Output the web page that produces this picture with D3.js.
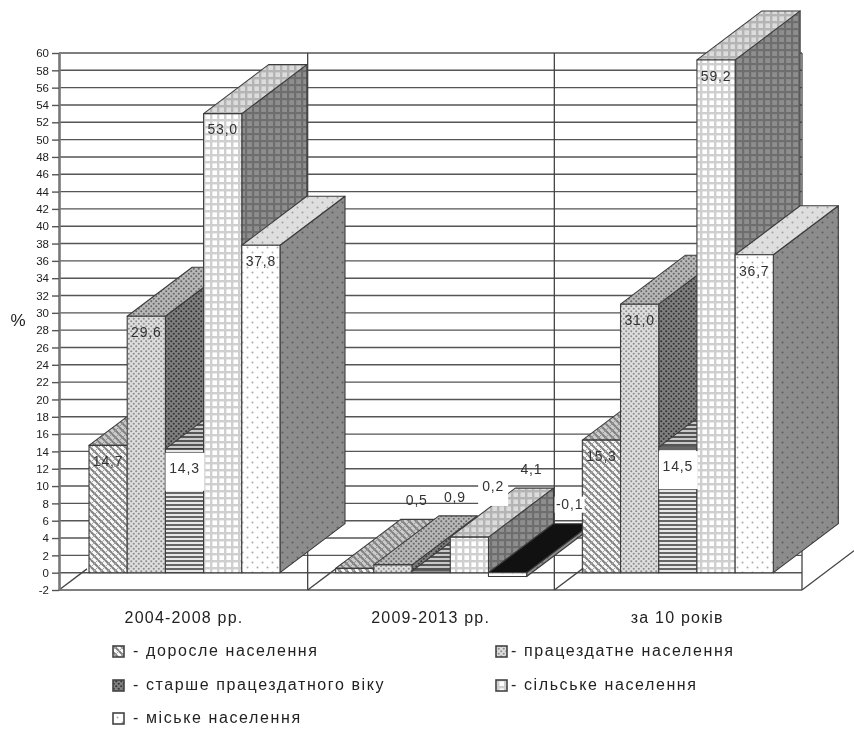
<!DOCTYPE html>
<html>
<head>
<meta charset="utf-8">
<script src="https://cdnjs.cloudflare.com/ajax/libs/d3/7.8.5/d3.min.js"></script>
<style>
    body { margin: 0; background: #fff; }
    svg { display: block; filter: blur(0.6px); }
    text { font-family: "Liberation Sans", Arial, sans-serif; fill: #222; }
</style>
</head>
<body>
<div id="chart"></div>
<script>
'use strict';

var categories = ['2004-2008 рр.', '2009-2013 рр.', 'за 10 років'];
var seriesNames = ['доросле населення', 'працездатне населення', 'старше працездатного віку', 'сільське населення', 'міське населення'];
var adultValues = [14.7, 0.5, 15.3];
var workingValues = [29.6, 0.9, 31.0];
var olderValues = [14.3, 0.2, 14.5];
var ruralValues = [53.0, 4.1, 59.2];
var urbanValues = [37.8, -0.1, 36.7];
var yTicks = d3.range(-2, 61, 2);

var seriesValues = [adultValues, workingValues, olderValues, ruralValues, urbanValues];

var width = 854, height = 729;
var depthX = 65, depthY = -49;

var svg = d3.select('#chart').append('svg')
    .attr('width', width)
    .attr('height', height);

var y = d3.scaleLinear().domain([-2, 60]).range([590, 53]);
var x0 = d3.scaleBand().domain(categories).range([60, 800]);
var x1 = d3.scaleBand().domain(seriesNames).range([29, 220]);

var defs = svg.append('defs');

function makePattern(id, size, bg, draw) {
    var p = defs.append('pattern')
        .attr('id', id)
        .attr('patternUnits', 'userSpaceOnUse')
        .attr('width', size)
        .attr('height', size);
    p.append('rect').attr('width', size).attr('height', size).attr('fill', bg);
    draw(p);
}

function hatch(color, w, cross) {
    return function(p) {
        p.append('path').attr('d', 'M-1,-1 L8,8 M-4,3 L4,11 M3,-4 L11,4')
            .attr('stroke', color).attr('stroke-width', w).attr('fill', 'none');
        p.append('path').attr('d', 'M-1,8 L8,-1 M-4,4 L4,-4 M3,11 L11,3')
            .attr('stroke', cross).attr('stroke-width', 1).attr('fill', 'none');
    };
}

function dots(color, r, size) {
    return function(p) {
        p.append('circle').attr('cx', size / 4).attr('cy', size / 4).attr('r', r).attr('fill', color);
        p.append('circle').attr('cx', size * 3 / 4).attr('cy', size * 3 / 4).attr('r', r).attr('fill', color);
    };
}

function stripes(color, w) {
    return function(p) {
        p.append('rect').attr('y', 0).attr('width', 4).attr('height', w).attr('fill', color);
    };
}

function grid(color, w, size) {
    return function(p) {
        p.append('rect').attr('width', size).attr('height', w).attr('fill', color);
        p.append('rect').attr('width', w).attr('height', size).attr('fill', color);
    };
}

makePattern('adultFront', 7, '#fafafa', hatch('#808080', 2, '#aaa'));
makePattern('adultTop', 7, '#cccccc', hatch('#808080', 2, '#999'));
makePattern('adultSide', 7, '#9a9a9a', hatch('#666', 2, '#777'));
makePattern('workFront', 5, '#dedede', dots('#8c8c8c', 1.05, 5));
makePattern('workTop', 5, '#b8b8b8', dots('#666', 1.05, 5));
makePattern('workSide', 5, '#808080', dots('#333', 1.05, 5));
makePattern('oldFront', 4, '#e8e8e8', stripes('#666', 2));
makePattern('oldTop', 4, '#c8c8c8', stripes('#555', 2));
makePattern('oldSide', 4, '#aaa', stripes('#444', 2));
makePattern('ruralFront', 7, '#fff', grid('#cfcfcf', 2.4, 7));
makePattern('ruralTop', 7, '#dcdcdc', grid('#b4b4b4', 2.4, 7));
makePattern('ruralSide', 7, '#8e8e8e', grid('#6e6e6e', 2.2, 7));
makePattern('urbanFront', 10, '#fff', dots('#a8a8a8', 1, 10));
makePattern('urbanTop', 10, '#dedede', dots('#a0a0a0', 1, 10));
makePattern('urbanSide', 10, '#8c8c8c', dots('#5c5c5c', 1, 10));

var faceNames = ['adult', 'work', 'old', 'rural', 'urban'];

// back wall and floor
var wall = svg.append('g').attr('id', 'wall-layer');

wall.selectAll('line.grid').data(yTicks).enter().append('line')
    .attr('class', 'grid')
    .attr('x1', 59).attr('x2', 802)
    .attr('y1', function(d) { return y(d); })
    .attr('y2', function(d) { return y(d); })
    .attr('stroke', '#555')
    .attr('stroke-width', 1.4);

function dividerX(i) {
    return i === 3 ? 802 : x0(categories[i]) + (i ? 1 : 0);
}

[1, 2, 3].forEach(function(i) {
    var xp = dividerX(i);
    wall.append('line')
        .attr('x1', xp).attr('x2', xp)
        .attr('y1', y(60)).attr('y2', y(-2))
        .attr('stroke', '#444').attr('stroke-width', 1.3);
});

[0, 1, 2, 3].forEach(function(i) {
    var xp = i === 0 ? 59 : dividerX(i);
    var len = i === 3 ? 52 : i === 0 ? 28 : 36;
    wall.append('line')
        .attr('x1', xp).attr('y1', y(-2))
        .attr('x2', xp + len).attr('y2', y(-2) - len * 49 / 65)
        .attr('stroke', '#444').attr('stroke-width', 1.3);
});

var axis = d3.axisLeft(y).tickValues(yTicks).tickSize(7).tickSizeOuter(0).tickFormat(String);
var axisG = svg.append('g').attr('transform', 'translate(59,0)').call(axis);
axisG.select('.domain').attr('stroke', '#777').attr('stroke-width', 2.6);
axisG.selectAll('.tick line').attr('stroke', '#555').attr('stroke-width', 1.4);
axisG.selectAll('.tick text')
    .attr('x', -10)
    .style('font-size', '11.5px')
    .style('fill', '#222')
    .style('font-family', '"Liberation Sans", Arial, sans-serif');

svg.append('text')
    .attr('x', 18).attr('y', 322)
    .attr('text-anchor', 'middle')
    .attr('dominant-baseline', 'middle')
    .style('font-size', '17px')
    .text('%');

// bars are painted left to right so the nearer one hides the side of the previous
var bars = svg.append('g').attr('id', 'bars-layer');

function poly(pts, fill) {
    bars.append('polygon')
        .attr('points', pts.map(function(p) { return p.join(','); }).join(' '))
        .attr('fill', fill)
        .attr('stroke', '#3c3c3c')
        .attr('stroke-width', 1.1)
        .attr('stroke-linejoin', 'round');
}

categories.forEach(function(cat) {
    seriesNames.forEach(function(name, s) {
        var g = categories.indexOf(cat);
        var v = seriesValues[s][g];
        var left = x0(cat) + x1(name);
        var right = left + x1.bandwidth();
        var topY = v < 0 ? y(0) : y(v);
        var botY = v < 0 ? y(v) + 3 : y(0);
        var f = faceNames[s];

        poly([[right, topY], [right + depthX, topY + depthY], [right + depthX, botY + depthY], [right, botY]], 'url(#' + f + 'Side)');
        poly([[left, topY], [right, topY], [right + depthX, topY + depthY], [left + depthX, topY + depthY]],
            v < 0 ? '#111' : 'url(#' + f + 'Top)');
        poly([[left, topY], [right, topY], [right, botY], [left, botY]], 'url(#' + f + 'Front)');
    });
});

// value labels
var labels = svg.append('g').attr('id', 'labels-layer');

categories.forEach(function(cat, g) {
    seriesNames.forEach(function(name, s) {
        var v = seriesValues[s][g];
        var cx = x0(cat) + x1(name) + x1.bandwidth() / 2;
        var lx, ly;
        if (Math.abs(v) < 5) {
            lx = cx + 62;
            ly = y(Math.max(v, 0)) - (s === 2 ? 84 : 67);
            if (s === 2 || s === 4) {
                labels.append('rect')
                    .attr('x', lx - 15).attr('y', ly - 9)
                    .attr('width', 30).attr('height', s === 2 ? 28 : 16)
                    .attr('fill', '#fff');
            }
        } else if (s === 2) {
            labels.append('rect')
                .attr('x', cx - 19).attr('y', y(v) + 4)
                .attr('width', 39).attr('height', 38)
                .attr('fill', '#fff');
            lx = cx;
            ly = y(v) + 20;
        } else {
            lx = cx;
            ly = y(v) + 17;
        }
        labels.append('text')
            .attr('x', lx).attr('y', ly)
            .attr('text-anchor', 'middle')
            .attr('dominant-baseline', 'middle')
            .style('font-size', '14px')
            .style('letter-spacing', '0.8px')
            .style('fill', '#333')
            .text(String(v.toFixed(1)).replace('.', ','));
    });
});

categories.forEach(function(cat) {
    svg.append('text')
        .attr('x', x0(cat) + 124)
        .attr('y', 619)
        .attr('text-anchor', 'middle')
        .attr('dominant-baseline', 'middle')
        .style('font-size', '16px')
        .style('letter-spacing', '1.2px')
        .text(cat);
});

// legend
var legendCols = [113, 496];
var legendRows = [652, 686, 719];
var legendFills = ['adultFront', 'workFront', 'workSide', 'ruralFront', 'urbanFront'];

seriesNames.forEach(function(name, i) {
    var lx = legendCols[i < 4 ? i % 2 : 0];
    var ly = legendRows[Math.floor(i / 2)];
    svg.append('rect')
        .attr('x', lx).attr('y', ly - 6)
        .attr('width', 11).attr('height', 11)
        .attr('fill', 'url(#' + legendFills[i] + ')')
        .attr('stroke', '#444')
        .attr('stroke-width', 1.6);
    svg.append('text')
        .attr('x', lx + (i % 2 ? 15 : 20)).attr('y', ly)
        .attr('dominant-baseline', 'middle')
        .style('font-size', '16px')
        .style('letter-spacing', '1.6px')
        .text('- ' + name);
});
</script>
</body>
</html>
